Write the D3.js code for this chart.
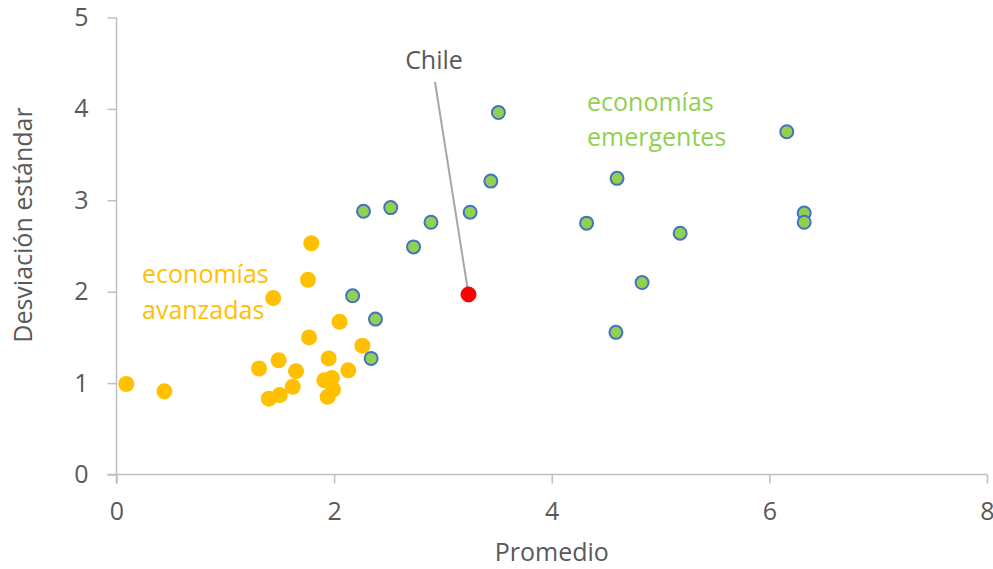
<!DOCTYPE html>
<html>
<head>
<meta charset="utf-8">
<script src="https://cdn.jsdelivr.net/npm/d3@7"></script>
<style>
  html, body { margin: 0; padding: 0; background: #fff; }
  svg text { font-family: "Open Sans", "Noto Sans", sans-serif; }
</style>
</head>
<body>
<svg id="chart" width="993" height="569"></svg>
<script>
// Advanced economies: [promedio, desviación estándar]
const avanzadasX = [0.09, 0.44, 1.31, 1.49, 1.40, 1.50, 1.62, 1.65, 1.44, 1.76, 1.79, 1.77, 1.91, 1.98, 1.99, 1.94, 1.95, 2.05, 2.13, 2.26];
const avanzadasY = [0.99, 0.91, 1.16, 1.25, 0.83, 0.87, 0.96, 1.13, 1.93, 2.13, 2.53, 1.50, 1.03, 1.055, 0.93, 0.85, 1.27, 1.67, 1.14, 1.41];

// Emerging economies
const emergentesX = [2.17, 2.38, 2.34, 3.51, 3.44, 2.27, 2.52, 2.89, 3.25, 2.73, 6.16, 4.60, 4.32, 5.18, 6.32, 6.32, 4.83, 4.59];
const emergentesY = [1.955, 1.70, 1.27, 3.96, 3.21, 2.88, 2.92, 2.76, 2.87, 2.49, 3.75, 3.24, 2.75, 2.64, 2.86, 2.76, 2.10, 1.555];

// Chile
const chileX = [3.235];
const chileY = [1.97];

const xTicks = [0, 2, 4, 6, 8];
const yTicks = [0, 1, 2, 3, 4, 5];

const svg = d3.select("#chart");
const x = d3.scaleLinear().domain([0, 8]).range([116.5, 987]);
const y = d3.scaleLinear().domain([0, 5]).range([474.5, 17.5]);

const axisColor = "#bfbfbf";
const textColor = "#595959";

// X axis
const gx = svg.append("g").attr("transform", `translate(0,${y(0)})`)
  .call(d3.axisBottom(x).tickValues(xTicks).tickSize(9).tickPadding(19).tickFormat(d3.format("d")));
gx.select(".domain").attr("stroke", axisColor).attr("stroke-width", 1.5)
  .attr("d", `M${x(0) - 9},0H${x(8)}`);
gx.selectAll(".tick line").attr("stroke", axisColor).attr("stroke-width", 1.5);
gx.selectAll(".tick text").attr("fill", textColor).attr("font-size", 25);

// Y axis
const gy = svg.append("g").attr("transform", `translate(${x(0)},0)`)
  .call(d3.axisLeft(y).tickValues(yTicks).tickSize(9).tickPadding(19).tickFormat(d3.format("d")));
gy.select(".domain").attr("stroke", axisColor).attr("stroke-width", 1.5)
  .attr("d", `M0,${y(0) + 9}V${y(5)}`);
gy.selectAll(".tick line").attr("stroke", axisColor).attr("stroke-width", 1.5);
gy.selectAll(".tick text").attr("fill", textColor).attr("font-size", 25);

// Axis titles
svg.append("text").attr("x", (x(0) + x(8)) / 2).attr("y", 561)
  .attr("text-anchor", "middle").attr("fill", textColor).attr("font-size", 25).text("Promedio");
svg.append("text").attr("transform", `translate(32,${225}) rotate(-90)`)
  .attr("text-anchor", "middle").attr("fill", textColor).attr("font-size", 25).text("Desviación estándar");

// Chile leader line (drawn before the marker)
svg.append("line")
  .attr("x1", 435).attr("y1", 82)
  .attr("x2", x(chileX[0])).attr("y2", y(chileY[0]))
  .attr("stroke", "#a6a6a6").attr("stroke-width", 2);

// Markers
svg.append("g").selectAll("circle")
  .data(avanzadasX.map((v, i) => [v, avanzadasY[i]]))
  .join("circle")
  .attr("cx", d => x(d[0])).attr("cy", d => y(d[1])).attr("r", 8)
  .attr("fill", "#ffc000");

svg.append("g").selectAll("circle")
  .data(emergentesX.map((v, i) => [v, emergentesY[i]]))
  .join("circle")
  .attr("cx", d => x(d[0])).attr("cy", d => y(d[1])).attr("r", 6.5)
  .attr("fill", "#92d050").attr("stroke", "#4472c4").attr("stroke-width", 2);

svg.append("g").selectAll("circle")
  .data(chileX.map((v, i) => [v, chileY[i]]))
  .join("circle")
  .attr("cx", d => x(d[0])).attr("cy", d => y(d[1])).attr("r", 7.5)
  .attr("fill", "#ff0000").attr("stroke", "#e00000").attr("stroke-width", 1);

// Group labels
svg.append("text").attr("x", 434).attr("y", 69).attr("text-anchor", "middle")
  .attr("fill", textColor).attr("font-size", 25).text("Chile");

const av = svg.append("text").attr("fill", "#ffc000").attr("font-size", 25);
av.append("tspan").attr("x", 142).attr("y", 283).text("economías");
av.append("tspan").attr("x", 142).attr("y", 319).text("avanzadas");

const em = svg.append("text").attr("fill", "#92d050").attr("font-size", 25);
em.append("tspan").attr("x", 587).attr("y", 111).text("economías");
em.append("tspan").attr("x", 587).attr("y", 146).text("emergentes");
</script>
</body>
</html>
